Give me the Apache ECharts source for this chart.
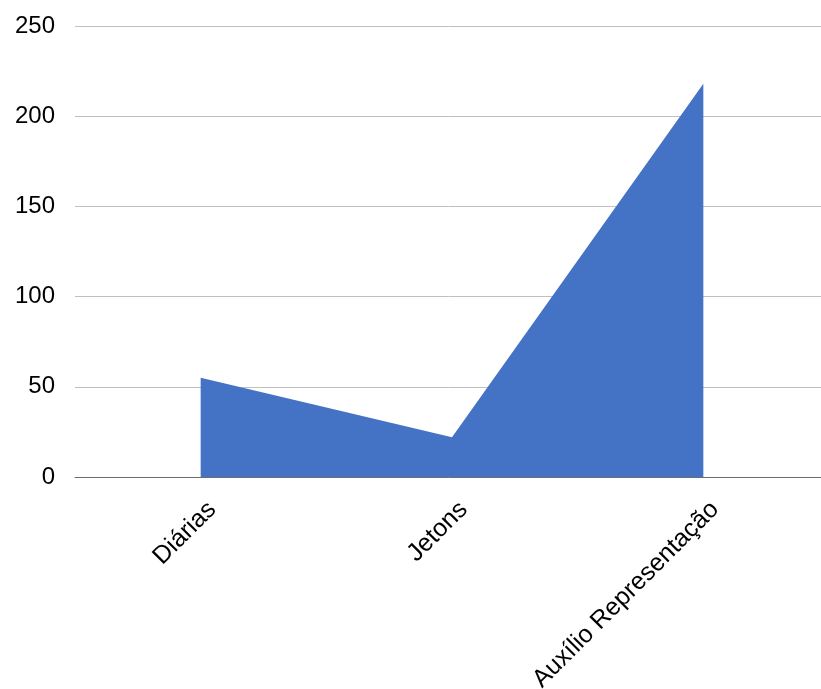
<!DOCTYPE html>
<html>
<head>
<meta charset="utf-8">
<script src="https://cdn.jsdelivr.net/npm/echarts@6/dist/echarts.min.js"></script>
<style>
  html, body { margin: 0; padding: 0; background: #fff; overflow: hidden; }
  #chart { width: 821px; height: 689px; }
</style>
</head>
<body>
<div id="chart"></div>
<script>
// Categories and values for the area series
const categories = ['Diárias', 'Jetons', 'Auxílio Representação'];
const values = [55, 22, 218];
const yTicks = { min: 0, max: 250, interval: 50 };

const chart = echarts.init(document.getElementById('chart'), null, { renderer: 'canvas' });

chart.setOption({
  animation: false,
  backgroundColor: '#ffffff',
  textStyle: { fontFamily: '"Liberation Sans", Arial, sans-serif' },
  grid: {
    left: 75, width: 754, top: 26, height: 451,
    containLabel: false,
    outerBoundsMode: 'none'
  },
  xAxis: {
    type: 'category',
    data: categories,
    boundaryGap: true,
    axisLine: { show: true, lineStyle: { color: '#6e6e6e', width: 1 } },
    axisTick: { show: false },
    axisLabel: {
      rotate: 45,
      interval: 0,
      margin: 17,
      fontSize: 25,
      lineHeight: 33,
      color: '#000000',
      verticalAlign: 'top',
      fontFamily: '"Liberation Sans", Arial, sans-serif'
    },
    splitLine: { show: false }
  },
  yAxis: {
    type: 'value',
    min: yTicks.min,
    max: yTicks.max,
    interval: yTicks.interval,
    axisLine: { show: false },
    axisTick: { show: false },
    axisLabel: {
      margin: 20,
      fontSize: 24,
      color: '#000000',
      fontFamily: '"Liberation Sans", Arial, sans-serif'
    },
    splitLine: { show: true, lineStyle: { color: '#c0c0c0', width: 1 } }
  },
  series: [{
    type: 'line',
    data: values,
    showSymbol: false,
    symbol: 'none',
    lineStyle: { width: 0, color: '#4472c4' },
    itemStyle: { color: '#4472c4' },
    areaStyle: { color: '#4472c4', opacity: 1 }
  }]
});
</script>
</body>
</html>
